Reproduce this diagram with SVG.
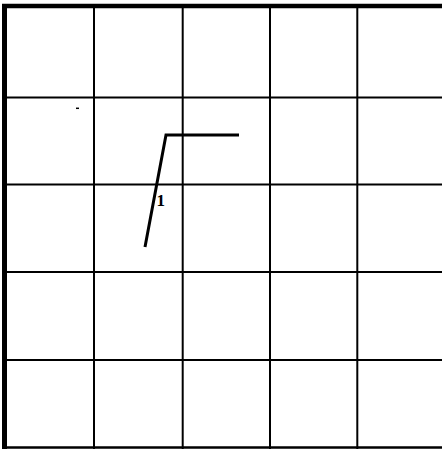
<svg xmlns="http://www.w3.org/2000/svg" width="442" height="449" viewBox="0 0 442 449">
<style>
.g{stroke:#000;stroke-width:2;fill:none}
.c{stroke:#000;stroke-width:3;fill:none;stroke-linejoin:miter}
.t{font-family:"Liberation Serif",serif;font-weight:bold;font-size:17px;fill:#000}
</style>
<rect width="442" height="449" fill="#fff"/>
<g id="grid">
<line class="g" x1="2" y1="6" x2="442" y2="6" style="stroke-width:4.5"/>
<line class="g" x1="4.5" y1="4" x2="4.5" y2="449" style="stroke-width:5"/>
<line class="g" x1="94" y1="6" x2="94" y2="449"/>
<line class="g" x1="182.7" y1="6" x2="182.7" y2="449"/>
<line class="g" x1="270" y1="6" x2="270" y2="449"/>
<line class="g" x1="357.3" y1="6" x2="357.3" y2="449"/>
<line class="g" x1="4" y1="97.5" x2="442" y2="97.5"/>
<line class="g" x1="4" y1="184.5" x2="442" y2="184.5"/>
<line class="g" x1="4" y1="272" x2="442" y2="272"/>
<line class="g" x1="4" y1="360" x2="442" y2="360"/>
<line class="g" x1="4" y1="447.5" x2="442" y2="447.5" style="stroke-width:2.5"/>
<line class="g" x1="76" y1="108.3" x2="79" y2="108.3" style="stroke-width:1.5"/>
</g>
<g id="curve1">
<polyline class="c" points="145,247 166,135 239,135"/>
<text class="t" x="156.5" y="205.5">1</text>
</g>
</svg>
